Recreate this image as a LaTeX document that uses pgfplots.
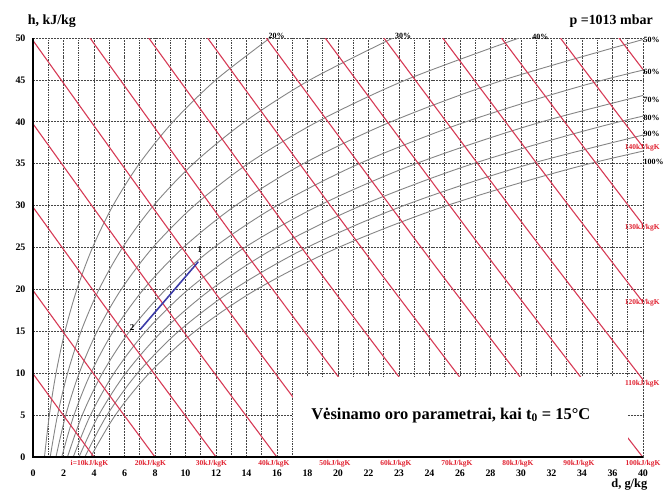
\documentclass[border=0pt]{standalone}
\usepackage{pgfplots}
\pgfplotsset{compat=1.18}
\usepackage{fontspec}
\setmainfont{Liberation Serif}
\definecolor{redl}{HTML}{D63A55}
\definecolor{redt}{HTML}{E0202F}
\definecolor{grayc}{HTML}{858585}
\definecolor{gridc}{HTML}{454545}
\definecolor{procc}{HTML}{3C3CA8}
\begin{document}
\begin{tikzpicture}
\begin{axis}[
  scale only axis, width=610bp, height=419bp,
  xmin=0, xmax=40, ymin=0, ymax=50,
  axis line style={draw=none},
  clip mode=individual,
  xtick={0,2,...,40},
  xticklabels={0,2,4,6,8,10,12,14,16,18,20,22,23,24,26,28,30,32,34,36,40},
  minor x tick num=1,
  ytick={0,5,...,50},
  grid=both,
  major grid style={gridc, line width=0.8pt, dash pattern=on 2pt off 1pt},
  minor grid style={gridc, line width=0.6pt, dash pattern=on 1.5pt off 1pt},
  major tick length=0pt, minor tick length=0pt,
  tick label style={font=\bfseries\fontsize{10}{10}\selectfont},
  /pgf/number format/assume math mode=true,
  xticklabel style={yshift=-9bp},
  yticklabel style={xshift=-4bp},
]
% relative humidity curves (20%..100%)
\addplot[grayc, line width=0.9pt, smooth] coordinates {(0.752,0) (1.072,5) (1.509,10) (2.097,15) (2.878,20) (3.905,25) (5.243,30) (6.970,35) (9.182,40) (11.992,45) (15.539,50)};
\addplot[grayc, line width=0.9pt, smooth] coordinates {(1.128,0) (1.610,5) (2.267,10) (3.151,15) (4.327,20) (5.876,25) (7.898,30) (10.514,35) (13.875,40) (18.163,45) (23.603,50)};
\addplot[grayc, line width=0.9pt, smooth] coordinates {(1.505,0) (2.148,5) (3.026,10) (4.208,15) (5.783,20) (7.859,25) (10.575,30) (14.098,35) (18.639,40) (24.455,45) (31.874,50)};
\addplot[grayc, line width=0.9pt, smooth] coordinates {(1.882,0) (2.688,5) (3.787,10) (5.269,15) (7.245,20) (9.855,25) (13.276,30) (17.723,35) (23.475,40) (30.872,45) (40.359,50)};
\addplot[grayc, line width=0.9pt, smooth] coordinates {(2.260,0) (3.228,5) (4.550,10) (6.333,15) (8.714,20) (11.863,25) (15.999,30) (21.389,35) (28.384,40) (37.418,45) (49.068,50)};
\addplot[grayc, line width=0.9pt, smooth] coordinates {(2.638,0) (3.769,5) (5.315,10) (7.401,15) (10.190,20) (13.885,25) (18.746,30) (25.098,35) (33.369,40) (44.096,45)};
\addplot[grayc, line width=0.9pt, smooth] coordinates {(3.017,0) (4.312,5) (6.081,10) (8.473,15) (11.674,20) (15.919,25) (21.517,30) (28.850,35) (38.431,40) (50.912,45)};
\addplot[grayc, line width=0.9pt, smooth] coordinates {(3.396,0) (4.855,5) (6.850,10) (9.548,15) (13.164,20) (17.966,25) (24.311,30) (32.646,35) (43.571,40)};
\addplot[grayc, line width=0.9pt, smooth] coordinates {(3.776,0) (5.399,5) (7.620,10) (10.627,15) (14.661,20) (20.027,25) (27.130,30) (36.485,35) (48.792,40)};
% enthalpy lines
\addplot[redl, line width=1.1pt, smooth] coordinates {(0,9.94) (2,4.95) (4.0,0)};
\addplot[redl, line width=1.1pt, smooth] coordinates {(0,19.88) (4,9.863) (8.0,0)};
\addplot[redl, line width=1.1pt, smooth] coordinates {(0,29.82) (6,14.741) (12.0,0)};
\addplot[redl, line width=1.1pt, smooth] coordinates {(0,39.76) (8,19.583) (15.99,0)};
\addplot[redl, line width=1.1pt, smooth] coordinates {(0,49.70) (10,24.39) (19.99,0)};
\addplot[redl, line width=1.1pt, smooth] coordinates {(3.74,50) (14,24.21) (23.99,0)};
\addplot[redl, line width=1.1pt, smooth] coordinates {(7.59,50) (18,24.03) (27.99,0)};
\addplot[redl, line width=1.1pt, smooth] coordinates {(11.45,50) (22,23.86) (31.99,0)};
\addplot[redl, line width=1.1pt, smooth] coordinates {(15.30,50) (26,23.69) (35.99,0)};
\addplot[redl, line width=1.1pt, smooth] coordinates {(19.16,50) (30,23.52) (39.98,0)};
\addplot[redl, line width=1.1pt, smooth] coordinates {(23.01,50) (32,28.13) (40,9.22)};
\addplot[redl, line width=1.1pt, smooth] coordinates {(26.87,50) (34,32.70) (40,18.47)};
\addplot[redl, line width=1.1pt, smooth] coordinates {(30.72,50) (36,37.25) (40,27.73)};
\addplot[redl, line width=1.1pt, smooth] coordinates {(34.58,50) (38,41.76) (40,36.99)};
\addplot[redl, line width=1.1pt] coordinates {(38.43,50) (40,46.24)};
% process line
\addplot[procc, line width=1.6pt] coordinates {(7.02,15.2) (10.84,23.3)};
% white box
\fill[white] (axis cs:17.05,0) rectangle (axis cs:39.0,9.5);
\node[font=\bfseries\fontsize{16.5}{18}\selectfont] at (axis cs:27.4,5.0) {Vėsinamo oro parametrai, kai t\textsubscript{0} = 15°C};
% axis lines
\draw[black, line width=1.6pt] (axis cs:0,50) -- (axis cs:0,0) -- (axis cs:40,0);
% point labels
\node[font=\bfseries\fontsize{9}{9}\selectfont] at (axis cs:10.95,24.8) {1};
\node[font=\bfseries\fontsize{9}{9}\selectfont] at (axis cs:6.5,15.5) {2};
% RH labels
\begin{scope}[every node/.style={font=\bfseries\fontsize{8}{8}\selectfont, inner sep=0.5bp, anchor=west}]
\node at (axis cs:15.4,50.25) {20\%};
\node at (axis cs:23.7,50.25) {30\%};
\node at (axis cs:32.7,50.1) {40\%};
\node at (axis cs:40.0,49.8) {50\%};
\node at (axis cs:40.0,45.9) {60\%};
\node at (axis cs:40.0,42.6) {70\%};
\node at (axis cs:40.0,40.45) {80\%};
\node at (axis cs:40.0,38.5) {90\%};
\node at (axis cs:40.0,35.2) {100\%};
\end{scope}
% enthalpy labels
\begin{scope}[every node/.style={font=\bfseries\fontsize{7.5}{7.5}\selectfont, text=redt, inner sep=0.5bp}]
\node[anchor=north] at (axis cs:3.7,-0.3) {i=10kJ/kgK};
\node[anchor=north] at (axis cs:7.7,-0.3) {20kJ/kgK};
\node[anchor=north] at (axis cs:11.7,-0.3) {30kJ/kgK};
\node[anchor=north] at (axis cs:15.8,-0.3) {40kJ/kgK};
\node[anchor=north] at (axis cs:19.8,-0.3) {50kJ/kgK};
\node[anchor=north] at (axis cs:23.8,-0.3) {60kJ/kgK};
\node[anchor=north] at (axis cs:27.8,-0.3) {70kJ/kgK};
\node[anchor=north] at (axis cs:31.8,-0.3) {80kJ/kgK};
\node[anchor=north] at (axis cs:35.8,-0.3) {90kJ/kgK};
\node[anchor=north] at (axis cs:40.0,-0.3) {100kJ/kgK};
\node at (axis cs:39.95,8.8) {110kJ/kgK};
\node at (axis cs:39.95,18.4) {120kJ/kgK};
\node at (axis cs:39.95,27.4) {130kJ/kgK};
\node at (axis cs:39.95,36.9) {140kJ/kgK};
\end{scope}
% titles
\node[font=\bfseries\fontsize{14}{14}\selectfont, anchor=west, inner sep=0] at (axis cs:-0.35,52.0) {h, kJ/kg};
\node[font=\bfseries\fontsize{14}{14}\selectfont, anchor=east, inner sep=0] at (axis cs:40.65,52.0) {p =1013 mbar};
\node[font=\bfseries\fontsize{12.5}{12.5}\selectfont, anchor=base east, inner sep=0] at (axis cs:40.3,-3.6) {d, g/kg};
\coordinate (bbsw) at (axis cs:-2.164,-4.177);
\coordinate (bbne) at (axis cs:41.902,54.535);
\end{axis}
\pgfresetboundingbox
\path[use as bounding box] (bbsw) rectangle (bbne);
\end{tikzpicture}
\end{document}
